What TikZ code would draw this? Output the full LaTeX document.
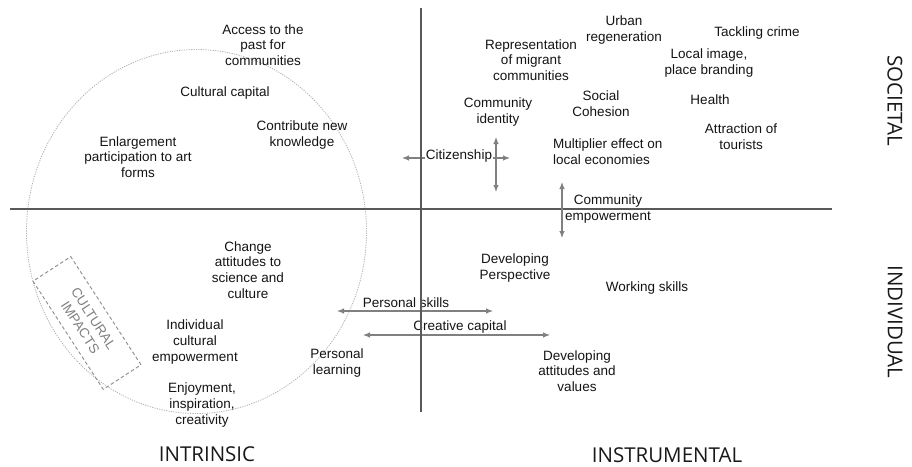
\documentclass[tikz,border=0pt]{standalone}
\usepackage{fontspec}
\setmainfont{Liberation Sans}
\newfontfamily\capsfont{Open Sans}
\usetikzlibrary{arrows.meta,calc}
\begin{document}
\begin{tikzpicture}[x=1pt,y=-1pt,
  lbl/.style={inner sep=0pt, align=center, text=black!92,
    font=\fontsize{13.5}{15.7}\selectfont},
  axislabel/.style={inner sep=0pt, text=black!90,
    font=\capsfont\fontsize{20.5}{24}\selectfont},
  axisline/.style={line width=2.4pt, draw=black!65},
  link/.style={line width=1.1pt, draw=black!50,
    {Latex[length=7pt,width=5.5pt]}-{Latex[length=7pt,width=5.5pt]}},
  rim/.style={draw=black!30, line width=0.8pt, dash pattern=on 1.2pt off 1.2pt},
  tag/.style={draw=black!45, line width=0.9pt, dash pattern=on 3.5pt off 2.5pt,
    minimum width=129pt, minimum height=45pt},
  tagtext/.style={inner sep=0pt, text=black!50,
    font=\fontsize{13.5}{15.7}\selectfont}
]
\useasboundingbox[fill=white] (0,0) rectangle (912,466);

% circle of intrinsic values
\draw[rim] (196.5,231.5) ellipse [x radius=170pt, y radius=182pt];

% axes
\coordinate (hl) at (10,209);
\coordinate (hr) at (832,209);
\coordinate (vt) at (421,8);
\coordinate (vb) at (421,412);
\draw[axisline] (hl) -- (hr);
\draw[axisline] (vt) -- (vb);

% quadrant headings
\node[axislabel, rotate=-90] (soc) at (895,101) {SOCIETAL};
\node[axislabel, rotate=-90] (ind) at (895,322) {INDIVIDUAL};
\node[axislabel] (intr) at (207,454) {INTRINSIC};
\node[axislabel] (instr) at (667,455) {INSTRUMENTAL};

% intrinsic, societal
\node[lbl] (access) at (263,45) {Access to the\\past for\\communities};
\node[lbl] (cultcap) at (225,93) {Cultural capital};
\node[lbl] (contrib) at (302,135) {Contribute new\\knowledge};
\node[lbl] (enlarge) at (138,157) {Enlargement\\participation to art\\forms};

% instrumental, societal
\node[lbl] (urban) at (624,30) {Urban\\regeneration};
\node[lbl] (crime) at (757,33) {Tackling crime};
\node[lbl] (migrant) at (531,60) {Representation\\of migrant\\communities};
\node[lbl] (image) at (709,63) {Local image,\\place branding};
\node[lbl] (identity) at (498,112) {Community\\identity};
\node[lbl] (cohesion) at (601,104) {Social\\Cohesion};
\node[lbl] (health) at (710,100) {Health};
\node[lbl] (tourists) at (741,137) {Attraction of\\tourists};
\node[lbl, align=left, anchor=west] (multi) at (553,152) {Multiplier effect on\\local economies};

% citizenship arrows
\coordinate (citL) at (402,158);
\coordinate (citR) at (510,158);
\coordinate (citT) at (496,137);
\coordinate (citB) at (496,192);
\draw[link] (citL) -- (citR);
\node[lbl, fill=white, inner sep=1pt] (citizen) at (459,156) {Citizenship};
\draw[link] (citT) -- (citB);

% community empowerment
\coordinate (empT) at (562,182);
\coordinate (empB) at (562,238);
\draw[link] (empT) -- (empB);
\node[lbl] (empower) at (608,209) {Community\\empowerment};

% instrumental, individual
\node[lbl] (perspective) at (515,268) {Developing\\Perspective};
\node[lbl] (working) at (647,288) {Working skills};
\node[lbl] (values) at (577,371) {Developing\\attitudes and\\values};

% personal skills and creative capital
\coordinate (psL) at (337,311);
\coordinate (psR) at (493,311);
\draw[link] (psL) -- (psR);
\node[lbl] (pskills) at (406,303) {Personal skills};
\coordinate (ccL) at (363,335);
\coordinate (ccR) at (550,335);
\draw[link] (ccL) -- (ccR);
\node[lbl] (ccap) at (460,327) {Creative capital};

% intrinsic, individual
\node[lbl] (change) at (248,270) {Change\\attitudes to\\science and\\culture};
\node[lbl] (indiv) at (195,342) {Individual\\cultural\\empowerment};
\node[lbl] (enjoy) at (202,405) {Enjoyment,\\inspiration,\\creativity};
\node[lbl] (plearn) at (337,363) {Personal\\learning};

% cultural impacts box, its two lines set along the box
\node[tag, rotate=-57] (impacts) at (87,323) {};
\node[tagtext, rotate=-57] (impA) at ($(impacts.center)+(6.6,-4.3)$) {CULTURAL};
\node[tagtext, rotate=-57] (impB) at ($(impacts.center)+(-6.6,4.3)$) {IMPACTS};

% redraw vertical axis over the arrow labels
\draw[axisline] (vt) -- (vb);
\end{tikzpicture}
\end{document}
